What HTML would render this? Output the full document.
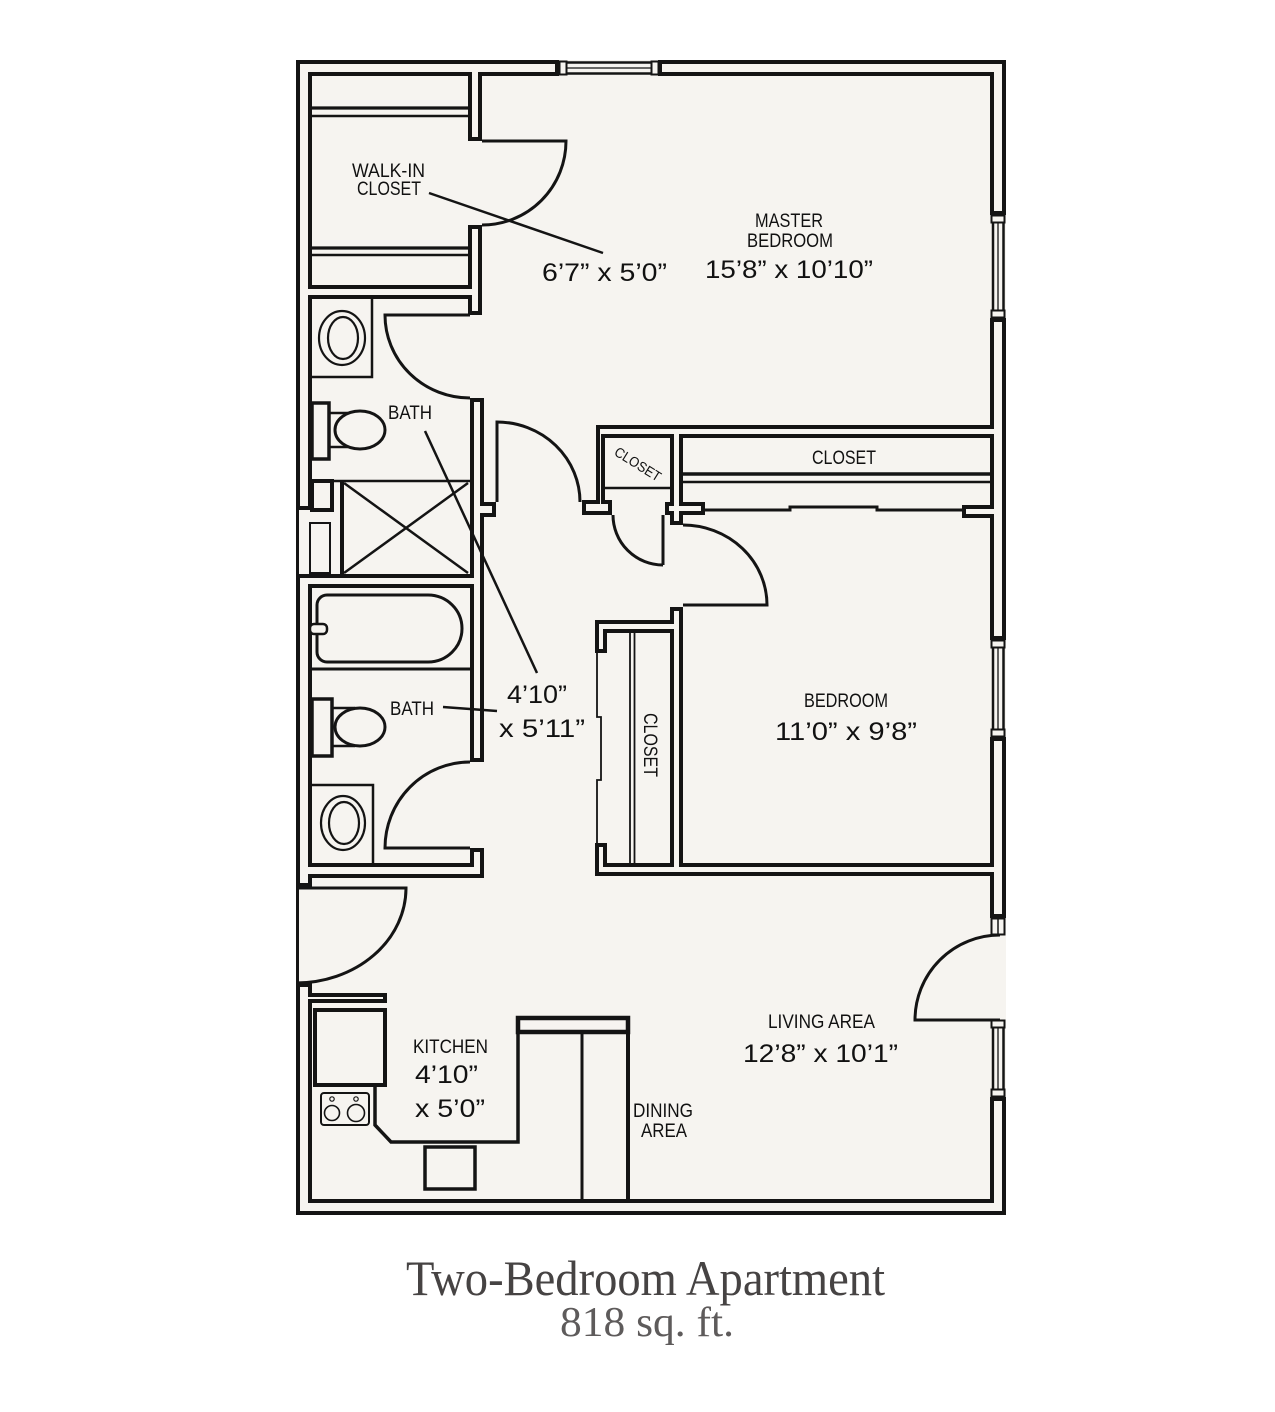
<!DOCTYPE html>
<html><head><meta charset="utf-8"><style>
html,body{margin:0;padding:0;background:#fff;}
svg{display:block;}
</style></head><body>
<svg width="1275" height="1412" viewBox="0 0 1275 1412" xmlns="http://www.w3.org/2000/svg">
<defs>
<filter id="ol" x="-5%" y="-5%" width="110%" height="110%" color-interpolation-filters="sRGB">
<feMorphology in="SourceAlpha" operator="erode" radius="4" result="e"/>
<feComposite in="SourceGraphic" in2="e" operator="out"/>
</filter>
</defs>
<rect x="0" y="0" width="1275" height="1412" fill="#ffffff"/>
<rect x="296" y="60" width="710" height="1155" fill="#f6f4f0"/>

<!-- walls -->
<g filter="url(#ol)" fill="#141414">
<rect x="296" y="60" width="263" height="16"/>
<rect x="658" y="60" width="348" height="16"/>
<rect x="296" y="60" width="16" height="450"/>
<rect x="296" y="574" width="16" height="313"/>
<rect x="296" y="983" width="16" height="232"/>
<rect x="990" y="60" width="16" height="155"/>
<rect x="990" y="318" width="16" height="322"/>
<rect x="990" y="737" width="16" height="181"/>
<rect x="990" y="1097" width="16" height="118"/>
<rect x="296" y="1199" width="710" height="16"/>
<rect x="468" y="60" width="14" height="81"/>
<rect x="468" y="225" width="14" height="90"/>
<rect x="296" y="285" width="186" height="14"/>
<rect x="470" y="398" width="14" height="364"/>
<rect x="470" y="502" width="26" height="15"/>
<rect x="296" y="574" width="188" height="14"/>
<rect x="470" y="848" width="14" height="30"/>
<rect x="296" y="863" width="188" height="15"/>
<rect x="296" y="993" width="91" height="10"/>
<rect x="596" y="425" width="410" height="13"/>
<rect x="596" y="425" width="9" height="77"/>
<rect x="582" y="500" width="30" height="15"/>
<rect x="670" y="425" width="13" height="100"/>
<rect x="665" y="502" width="40" height="13"/>
<rect x="962" y="505" width="44" height="13"/>
<rect x="595" y="620" width="88" height="13"/>
<rect x="670" y="607" width="13" height="269"/>
<rect x="595" y="620" width="12" height="33"/>
<rect x="595" y="843" width="12" height="33"/>
<rect x="595" y="863" width="411" height="13"/>
</g>

<g stroke="#141414" fill="none" stroke-linecap="butt">
<line x1="297.5" y1="505" x2="297.5" y2="580" stroke-width="3"/>
<line x1="297.5" y1="885" x2="297.5" y2="986" stroke-width="3"/>

<rect x="559.5" y="61.5" width="7" height="13" stroke-width="2"/>
<rect x="651.5" y="61.5" width="7" height="13" stroke-width="2"/>
<line x1="566" y1="62.5" x2="652" y2="62.5" stroke-width="2.5"/>
<line x1="566" y1="68" x2="652" y2="68" stroke-width="1.3"/>
<line x1="566" y1="73.5" x2="652" y2="73.5" stroke-width="2.5"/>

<g>
<rect x="991.5" y="215.5" width="13" height="7" stroke-width="2"/>
<rect x="991.5" y="310.5" width="13" height="7" stroke-width="2"/>
<line x1="993" y1="222" x2="993" y2="311" stroke-width="2.5"/>
<line x1="998" y1="222" x2="998" y2="311" stroke-width="1.3"/>
<line x1="1003.5" y1="222" x2="1003.5" y2="311" stroke-width="2.5"/>

<rect x="991.5" y="640.5" width="13" height="7" stroke-width="2"/>
<rect x="991.5" y="729.5" width="13" height="7" stroke-width="2"/>
<line x1="993" y1="647" x2="993" y2="730" stroke-width="2.5"/>
<line x1="998" y1="647" x2="998" y2="730" stroke-width="1.3"/>
<line x1="1003.5" y1="647" x2="1003.5" y2="730" stroke-width="2.5"/>

<rect x="991.5" y="918.5" width="13" height="16" stroke-width="2"/>
<line x1="998" y1="919" x2="998" y2="934" stroke-width="1.5"/>

<rect x="991.5" y="1020.5" width="13" height="7" stroke-width="2"/>
<rect x="991.5" y="1089.5" width="13" height="7" stroke-width="2"/>
<line x1="993" y1="1027" x2="993" y2="1090" stroke-width="2.5"/>
<line x1="998" y1="1027" x2="998" y2="1090" stroke-width="1.3"/>
<line x1="1003.5" y1="1027" x2="1003.5" y2="1090" stroke-width="2.5"/>
</g>

<g stroke-width="3">
<path d="M482,141 H566 A84,84 0 0 1 482,225"/>
<path d="M470,315 H385 A85,83 0 0 0 470,398"/>
<path d="M497,502 V422 A83,80 0 0 1 580,502"/>
<path d="M663,515 V565 M613,515 A50,50 0 0 0 663,565"/>
<path d="M683,605 H767 A84,80 0 0 0 683,525"/>
<path d="M470,848 H385 A85,86 0 0 1 470,762"/>
<path d="M296,888 H406 A110,95 0 0 1 296,983"/>
<path d="M1000,1020 H915 A85,85 0 0 1 1000,935"/>
</g>

<line x1="312" y1="108" x2="468" y2="108" stroke-width="3.2"/>
<line x1="312" y1="116" x2="468" y2="116" stroke-width="2.5"/>
<line x1="312" y1="248" x2="468" y2="248" stroke-width="3.2"/>
<line x1="312" y1="255" x2="468" y2="255" stroke-width="2.5"/>

<path d="M372,299 V377 H312" stroke-width="2.5"/>
<ellipse cx="342" cy="338" rx="23" ry="27" stroke-width="2.2"/>
<ellipse cx="343" cy="338" rx="15" ry="21" stroke-width="2.2"/>
<rect x="312" y="403" width="17" height="56" stroke-width="3.5"/>
<path d="M329,413 H352 M329,447 H352" stroke-width="2.5"/>
<ellipse cx="360" cy="430" rx="25" ry="19" stroke-width="3" fill="#f6f4f0"/>
<line x1="312" y1="481" x2="470" y2="481" stroke-width="2.5"/>
<line x1="342" y1="481" x2="342" y2="575" stroke-width="4"/>
<path d="M344,483 L468,573 M468,483 L344,573" stroke-width="2.5"/>
<rect x="312" y="481" width="20" height="29" stroke-width="4"/>
<rect x="310" y="523" width="20" height="50" stroke-width="2"/>

<path d="M327,595 H428 A34,33.5 0 0 1 428,662 H327 A10,10 0 0 1 317,652 V605 A10,10 0 0 1 327,595 Z" stroke-width="3"/>
<rect x="310" y="624" width="17" height="10" rx="4" stroke-width="2.5" fill="#f6f4f0"/>
<line x1="312" y1="669" x2="470" y2="669" stroke-width="3"/>
<rect x="312" y="699" width="20" height="57" stroke-width="3.5"/>
<path d="M332,708 H355 M332,746 H355" stroke-width="2.5"/>
<ellipse cx="360" cy="727" rx="25" ry="19" stroke-width="3" fill="#f6f4f0"/>
<path d="M312,785 H373 V863" stroke-width="2.5"/>
<ellipse cx="343" cy="823" rx="22" ry="27" stroke-width="2.2"/>
<ellipse cx="344" cy="823" rx="15" ry="21" stroke-width="2.2"/>

<line x1="605" y1="488" x2="670" y2="488" stroke-width="2.5"/>
<line x1="683" y1="474" x2="990" y2="474" stroke-width="3.5"/>
<line x1="683" y1="482" x2="990" y2="482" stroke-width="2.5"/>
<path d="M705,510 H790 V507 H877 V510 H962" stroke-width="3"/>
<line x1="630" y1="633" x2="630" y2="863" stroke-width="1.8"/>
<line x1="634.5" y1="633" x2="634.5" y2="863" stroke-width="1.8"/>
<path d="M597,653 V717 H601 V780 H597 V843" stroke-width="1.8"/>

<rect x="315" y="1010" width="70" height="75" stroke-width="4"/>
<rect x="321" y="1093" width="48" height="32" rx="3" stroke-width="2"/>
<circle cx="332" cy="1113" r="7.5" stroke-width="1.6"/>
<circle cx="356" cy="1113" r="8.5" stroke-width="1.6"/>
<circle cx="332" cy="1099" r="2.2" stroke-width="1.2"/>
<circle cx="356" cy="1099" r="2.2" stroke-width="1.2"/>
<path d="M375,1085 V1125 L391,1142 H518 V1032" stroke-width="3.5"/>
<rect x="518" y="1018" width="110" height="14" stroke-width="4.5"/>
<line x1="582" y1="1032" x2="582" y2="1199" stroke-width="3"/>
<line x1="628" y1="1032" x2="628" y2="1199" stroke-width="4"/>
<rect x="425" y="1147" width="50" height="42" stroke-width="3.5"/>

<path d="M429,193 L603,253" stroke-width="2.5"/>
<path d="M425,431 L537,673" stroke-width="2.5"/>
<path d="M443,707 L497,711" stroke-width="2.5"/>
</g>

<g font-family="'Liberation Sans', sans-serif" fill="#111">
<text x="352" y="177" font-size="19" textLength="73" lengthAdjust="spacingAndGlyphs">WALK-IN</text>
<text x="357" y="195" font-size="19" textLength="64" lengthAdjust="spacingAndGlyphs">CLOSET</text>
<text x="542" y="281" font-size="25" textLength="125" lengthAdjust="spacingAndGlyphs">6’7” x 5’0”</text>
<text x="755" y="227" font-size="19" textLength="68" lengthAdjust="spacingAndGlyphs">MASTER</text>
<text x="747" y="247" font-size="19" textLength="86" lengthAdjust="spacingAndGlyphs">BEDROOM</text>
<text x="705" y="278" font-size="25" textLength="168" lengthAdjust="spacingAndGlyphs">15’8” x 10’10”</text>
<text x="388" y="419" font-size="19" textLength="44" lengthAdjust="spacingAndGlyphs">BATH</text>
<text x="390" y="715" font-size="19" textLength="44" lengthAdjust="spacingAndGlyphs">BATH</text>
<text x="507" y="703" font-size="25" textLength="60" lengthAdjust="spacingAndGlyphs">4’10”</text>
<text x="499" y="737" font-size="25" textLength="86" lengthAdjust="spacingAndGlyphs">x 5’11”</text>
<text x="812" y="464" font-size="19" textLength="64" lengthAdjust="spacingAndGlyphs">CLOSET</text>
<text x="0" y="5" font-size="14" text-anchor="middle" textLength="52" lengthAdjust="spacingAndGlyphs" transform="translate(638,464) rotate(32)">CLOSET</text>
<text x="804" y="707" font-size="19" textLength="84" lengthAdjust="spacingAndGlyphs">BEDROOM</text>
<text x="775" y="740" font-size="25" textLength="142" lengthAdjust="spacingAndGlyphs">11’0” x 9’8”</text>
<text x="0" y="7" font-size="19" text-anchor="middle" textLength="64" lengthAdjust="spacingAndGlyphs" transform="translate(651,745) rotate(90)">CLOSET</text>
<text x="768" y="1028" font-size="19" textLength="107" lengthAdjust="spacingAndGlyphs">LIVING AREA</text>
<text x="743" y="1062" font-size="25" textLength="155" lengthAdjust="spacingAndGlyphs">12’8” x 10’1”</text>
<text x="633" y="1117" font-size="19" textLength="60" lengthAdjust="spacingAndGlyphs">DINING</text>
<text x="641" y="1137" font-size="19" textLength="46" lengthAdjust="spacingAndGlyphs">AREA</text>
<text x="413" y="1053" font-size="19" textLength="75" lengthAdjust="spacingAndGlyphs">KITCHEN</text>
<text x="415" y="1083" font-size="25" textLength="63" lengthAdjust="spacingAndGlyphs">4’10”</text>
<text x="415" y="1117" font-size="25" textLength="70" lengthAdjust="spacingAndGlyphs">x 5’0”</text>
</g>

<text x="406" y="1295" font-family="'Liberation Serif', serif" font-size="50" fill="#464343" textLength="479" lengthAdjust="spacingAndGlyphs">Two-Bedroom Apartment</text>
<text x="560" y="1336" font-family="'Liberation Serif', serif" font-size="42" fill="#5e5b5b" textLength="174" lengthAdjust="spacingAndGlyphs">818 sq. ft.</text>
</svg>
</body></html>
